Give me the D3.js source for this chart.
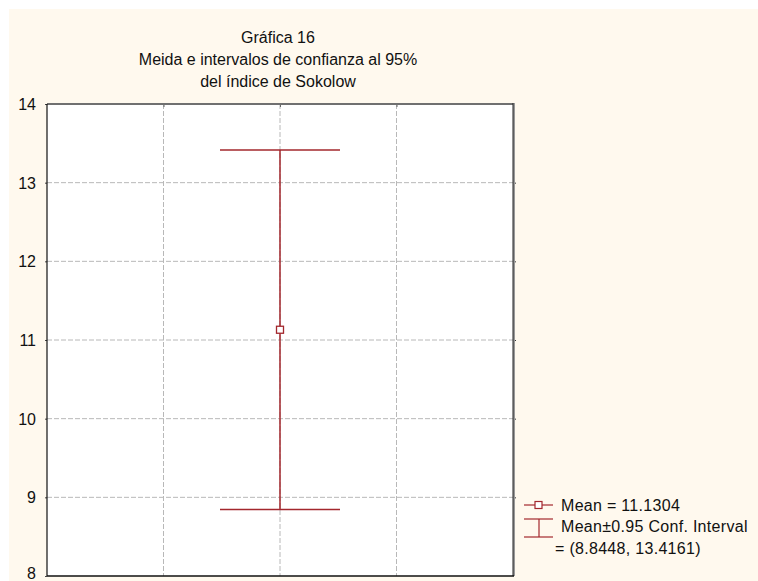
<!DOCTYPE html>
<html>
<head>
<meta charset="utf-8">
<script src="https://cdn.jsdelivr.net/npm/d3@7"></script>
<style>
  body { margin: 0; background: #fff; }
  text { font-family: "Liberation Sans", Arial, sans-serif; fill: #111; }
</style>
</head>
<body>
<div id="chart"></div>
<script>
// data
var titleLines = ["Gráfica 16", "Meida e intervalos de confianza al 95%", "del índice de Sokolow"];
var positions = [2];            // single variable, centred
var means = [11.1304];
var lower = [8.8448];
var upper = [13.4161];
var yTicks = [8, 9, 10, 11, 12, 13, 14];
var xGrid = [1, 2, 3];
var legendLabels = ["Mean = 11.1304", "Mean\u00b10.95 Conf. Interval", "= (8.8448, 13.4161)"];

(function() {
var W = 758, H = 581;
var red = "#a3272d";

var svg = d3.select("#chart").append("svg")
    .attr("width", W).attr("height", H);

// cream panel
svg.append("rect").attr("x", 9).attr("y", 9)
    .attr("width", W - 9).attr("height", H - 9)
    .attr("fill", "#fff9ee");

var pLeft = 47, pRight = 513, pTop = 104, pBottom = 576;

var x = d3.scaleLinear().domain([0, 4]).range([pLeft, pRight]);
var y = d3.scaleLinear().domain([8, 14]).range([pBottom, pTop]);

// plot area
svg.append("rect").attr("x", pLeft).attr("y", pTop)
    .attr("width", pRight - pLeft).attr("height", pBottom - pTop)
    .attr("fill", "#fff");

// grid
svg.selectAll(".vg").data(xGrid).enter().append("line")
    .attr("x1", function(d) { return x(d); }).attr("x2", function(d) { return x(d); })
    .attr("y1", pTop).attr("y2", pBottom)
    .attr("stroke", "#b8b8b8").attr("stroke-dasharray", "5,2");
svg.selectAll(".hg").data(yTicks.slice(1, -1)).enter().append("line")
    .attr("x1", pLeft).attr("x2", pRight)
    .attr("y1", function(d) { return y(d); }).attr("y2", function(d) { return y(d); })
    .attr("stroke", "#b8b8b8").attr("stroke-dasharray", "5,2");

// left axis
var yAxis = svg.append("g")
    .attr("transform", "translate(" + pLeft + ",0)")
    .call(d3.axisLeft(y).tickValues(yTicks).tickSize(2).tickPadding(9).tickFormat(d3.format("d")));
yAxis.select(".domain").remove();
yAxis.selectAll("line").attr("stroke", "#444");
yAxis.selectAll("text").attr("font-size", "16px")
    .attr("font-family", "Liberation Sans, Arial, sans-serif").attr("fill", "#111")
    .attr("dy", function(d) { return d === 8 ? "0.15em" : "0.35em"; });

// right ticks
svg.append("g").attr("transform", "translate(" + pRight + ",0)")
    .call(d3.axisRight(y).tickValues(yTicks.slice(1, -1)).tickSize(3).tickFormat(""))
    .call(function(g) { g.select(".domain").remove(); g.selectAll("line").attr("stroke", "#333"); });

// top ticks
svg.append("g").attr("transform", "translate(0," + pTop + ")")
    .call(d3.axisBottom(x).tickValues(xGrid).tickSize(3).tickFormat(""))
    .call(function(g) { g.select(".domain").remove(); g.selectAll("line").attr("stroke", "#666"); });

// frame
svg.append("line").attr("x1", pLeft).attr("x2", pRight).attr("y1", pTop).attr("y2", pTop)
    .attr("stroke", "#707070").attr("stroke-width", 2);
svg.append("line").attr("x1", pRight + 1).attr("x2", pRight + 1).attr("y1", pTop - 1).attr("y2", pBottom)
    .attr("stroke", "#999").attr("stroke-width", 2);
svg.append("line").attr("x1", pRight).attr("x2", pRight).attr("y1", pTop - 1).attr("y2", pBottom)
    .attr("stroke", "#222").attr("stroke-width", 1);
svg.append("line").attr("x1", pLeft).attr("x2", pLeft).attr("y1", pTop).attr("y2", pBottom)
    .attr("stroke", "#111").attr("stroke-width", 1.2);
svg.append("line").attr("x1", pLeft).attr("x2", pRight + 1).attr("y1", pBottom).attr("y2", pBottom)
    .attr("stroke", "#111").attr("stroke-width", 1.5);

// error bars
var capHalf = 60;
var g = svg.append("g");
g.selectAll(".whisk").data(positions).enter().append("line")
    .attr("x1", function(d) { return x(d); }).attr("x2", function(d) { return x(d); })
    .attr("y1", function(d, i) { return y(upper[i]); })
    .attr("y2", function(d, i) { return y(lower[i]); })
    .attr("stroke", red).attr("stroke-width", 1.5);
g.selectAll(".capT").data(positions).enter().append("line")
    .attr("x1", function(d) { return x(d) - capHalf; }).attr("x2", function(d) { return x(d) + capHalf; })
    .attr("y1", function(d, i) { return y(upper[i]); }).attr("y2", function(d, i) { return y(upper[i]); })
    .attr("stroke", red).attr("stroke-width", 1.5);
g.selectAll(".capB").data(positions).enter().append("line")
    .attr("x1", function(d) { return x(d) - capHalf; }).attr("x2", function(d) { return x(d) + capHalf; })
    .attr("y1", function(d, i) { return y(lower[i]); }).attr("y2", function(d, i) { return y(lower[i]); })
    .attr("stroke", red).attr("stroke-width", 1.5);
g.selectAll(".mean").data(positions).enter().append("rect")
    .attr("x", function(d) { return x(d) - 3.5; })
    .attr("y", function(d, i) { return y(means[i]) - 3.5; })
    .attr("width", 7).attr("height", 7)
    .attr("fill", "#fff").attr("stroke", red).attr("stroke-width", 1.3);

// title
svg.append("g").selectAll("text").data(titleLines).enter().append("text")
    .attr("x", x(2) - 2).attr("y", function(d, i) { return 43 + i * 22; })
    .attr("text-anchor", "middle").attr("font-size", "16px")
    .text(function(d) { return d; });

// legend
var lg = svg.append("g");
lg.append("line").attr("x1", 524).attr("x2", 553).attr("y1", 505).attr("y2", 505)
    .attr("stroke", red).attr("stroke-width", 1.2);
lg.append("rect").attr("x", 535).attr("y", 501.5).attr("width", 7).attr("height", 7)
    .attr("fill", "#fff").attr("stroke", red).attr("stroke-width", 1.2);
lg.append("line").attr("x1", 524).attr("x2", 553).attr("y1", 519).attr("y2", 519)
    .attr("stroke", red).attr("stroke-width", 1.2);
lg.append("line").attr("x1", 524).attr("x2", 553).attr("y1", 537).attr("y2", 537)
    .attr("stroke", red).attr("stroke-width", 1.2);
lg.append("line").attr("x1", 539).attr("x2", 539).attr("y1", 519).attr("y2", 537)
    .attr("stroke", red).attr("stroke-width", 1.2);
lg.selectAll("text").data(legendLabels).enter().append("text")
    .attr("x", function(d, i) { return i === 2 ? 555 : 561; })
    .attr("y", function(d, i) { return [511, 532, 554][i]; })
    .attr("font-size", "16px").attr("letter-spacing", "0.3px")
    .text(function(d) { return d; });
})();
</script>
</body>
</html>
